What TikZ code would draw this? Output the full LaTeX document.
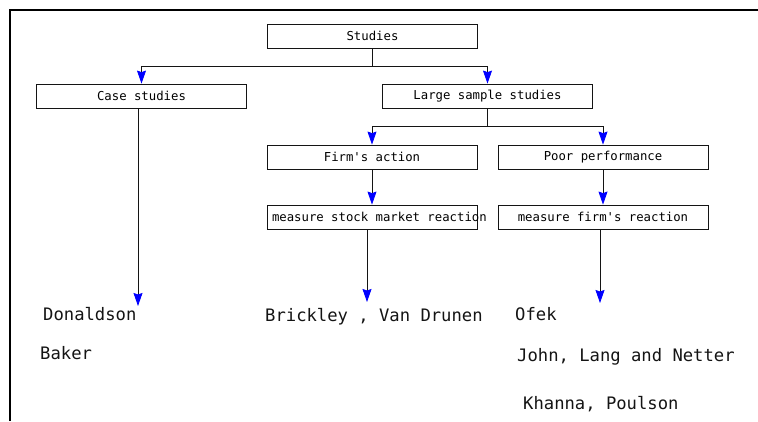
\documentclass[tikz,border=0pt]{standalone}
\usepackage{fontspec}
\usepackage{tikz}
\usetikzlibrary{positioning,arrows.meta}
\newfontfamily\chartfont{DejaVu Sans Mono}
\definecolor{colortip}{RGB}{0,0,255}
\definecolor{colorline}{RGB}{20,20,20}

\begin{document}
\begin{tikzpicture}[
    x=1pt, y=-1pt,
    box/.style={draw=colorline,line width=0.8pt,rectangle,minimum width=210pt,minimum height=24pt,
                inner xsep=5pt,inner ysep=2pt,font={\chartfont\fontsize{12.3}{14}\selectfont}},
    citetext/.style={anchor=west,inner sep=0pt,text=colorline,font={\chartfont\fontsize{17.2}{20}\selectfont}},
    link/.style={draw=colorline,line width=0.8pt,-{Stealth[width=9pt,length=13pt,inset=1.5pt,color=colortip]}},
]
    \useasboundingbox (0,0) rectangle (758,421);
    \draw[line width=2pt] (10,421) -- (10,10) -- (758,10);

    % tree of boxes
    \node[box] (studies) at (372.5,36)  {Studies};
    \node[box] (case)    at (141.5,96)  {Case studies};
    \node[box] (large)   at (487.5,96)  {Large sample studies};
    \node[box] (firm)    at (372,157)   {Firm's action};
    \node[box] (poor)    at (603,157)   {Poor performance};
    \node[box] (stock)   at (372,217)   {\makebox[200pt][l]{measure stock market reaction}};
    \node[box] (react)   at (603,217)   {measure firm's reaction};

    \draw[link] (studies.south) -- ++(0,18) -| (case.north);
    \draw[link] (studies.south) -- ++(0,18) -| (large.north);
    \draw[link] (large.south) -- ++(0,18) -| (firm.north);
    \draw[link] (large.south) -- ++(0,18) -| (poor.north);
    \draw[link] (firm) -- (stock);
    \draw[link] (poor) -- (react);

    % arrows down to the authors
    \coordinate (casetip)  at (138,306);
    \coordinate (stocktip) at (367,302);
    \coordinate (reacttip) at (600,303);
    \draw[link] (case.south -| casetip) -- (casetip);
    \draw[link] (stock.south -| stocktip) -- (stocktip);
    \draw[link] (react.south -| reacttip) -- (reacttip);

    \node[citetext] (donaldson) at (43,314)  {Donaldson};
    \node[citetext] (baker)     at (40,353)  {Baker};
    \node[citetext] (brickley)  at (265,317) {Brickley , Van Drunen};
    \node[citetext] (ofek)      at (515,314) {Ofek};
    \node[citetext] (john)      at (517,357) {John, Lang and Netter};
    \node[citetext] (khanna)    at (523,404) {Khanna, Poulson};

\end{tikzpicture}
\end{document}
